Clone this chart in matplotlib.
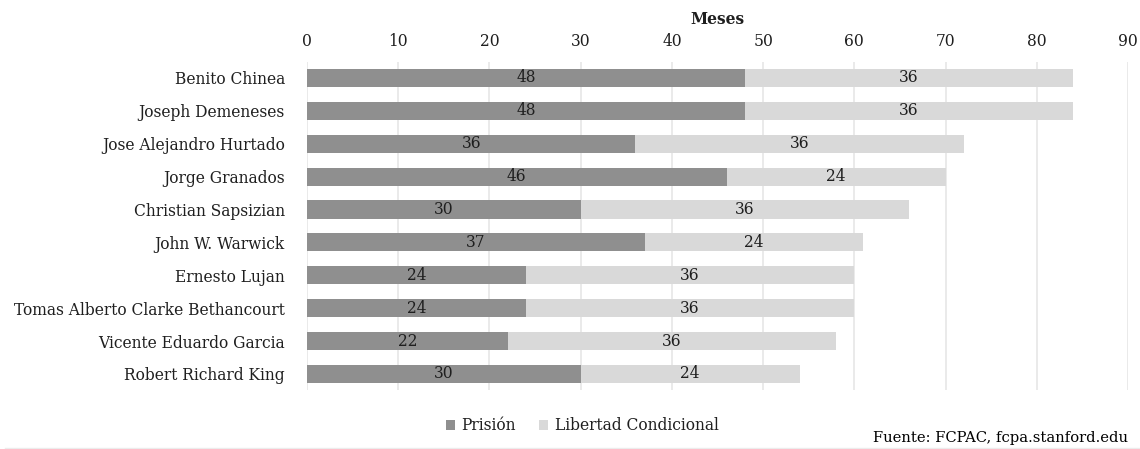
import numpy as np
import matplotlib
matplotlib.use("Agg")
import matplotlib.pyplot as plt

names = [
    "Benito Chinea",
    "Joseph Demeneses",
    "Jose Alejandro Hurtado",
    "Jorge Granados",
    "Christian Sapsizian",
    "John W. Warwick",
    "Ernesto Lujan",
    "Tomas Alberto Clarke Bethancourt",
    "Vicente Eduardo Garcia",
    "Robert Richard King",
]
prision = [48, 48, 36, 46, 30, 37, 24, 24, 22, 30]
libertad = [36, 36, 36, 24, 36, 24, 36, 36, 36, 24]

DARK = "#8f8f8f"
LIGHT = "#d9d9d9"
TXT = "#1f1f1f"
FS = 11.2

plt.rcParams["font.family"] = ["DejaVu Serif"]

fig = plt.figure(figsize=(11.4, 4.49), dpi=100)
ax = fig.add_axes([0.2693, 0.1305, 0.7202, 0.7325])

y = np.arange(len(names))
p = np.array(prision)
l = np.array(libertad)
ax.barh(y, p, height=0.55, color=DARK, label="Prisión", zorder=2)
ax.barh(y, l, left=p, height=0.55, color=LIGHT, label="Libertad Condicional", zorder=2)

for i in range(len(names)):
    ax.text(p[i] / 2, y[i], str(p[i]), ha="center", va="center",
            fontsize=FS, color=TXT, zorder=3)
    ax.text(p[i] + l[i] / 2, y[i], str(l[i]), ha="center", va="center",
            fontsize=FS, color=TXT, zorder=3)

ax.set_xlim(0, 90)
ax.set_ylim(len(names) - 0.5, -0.5)
ax.set_xticks(range(0, 91, 10))
ax.set_yticks(y)
ax.set_yticklabels(names)
ax.xaxis.tick_top()
ax.xaxis.set_label_position("top")
ax.set_xlabel("Meses", fontsize=FS, fontweight="bold", color=TXT, labelpad=7)
ax.tick_params(axis="x", length=0, labelsize=FS, colors=TXT, pad=8)
ax.tick_params(axis="y", length=0, labelsize=FS, colors=TXT, pad=16)
ax.grid(axis="x", color="#e6e6e6", lw=1.2, zorder=0)
for s in ax.spines.values():
    s.set_visible(False)

ax.legend(loc="center", bbox_to_anchor=(582 / 1140, 1 - 426 / 449),
          bbox_transform=fig.transFigure, ncol=2, frameon=False,
          fontsize=FS, handlelength=0.6, handleheight=0.6,
          columnspacing=1.5, handletextpad=0.4, labelcolor=TXT)

fig.text(1128 / 1140, 1 - 438 / 449, "Fuente: FCPAC, fcpa.stanford.edu",
         ha="right", va="center", fontsize=10.6, color="#000000")
fig.add_artist(plt.Line2D([0.004, 1], [0.003, 0.003], transform=fig.transFigure,
                          color="#ececec", lw=1))

fig.savefig("out.png", dpi=100)
